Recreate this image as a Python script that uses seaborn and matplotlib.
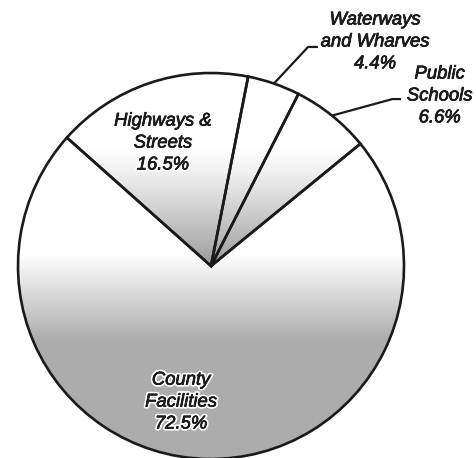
import numpy as np
import matplotlib
matplotlib.use("Agg")
import matplotlib.pyplot as plt
import matplotlib.patheffects as pe
from matplotlib.colors import LinearSegmentedColormap
import seaborn as sns

# Capital spending shares (percent), listed counter-clockwise from the start angle
categories = ["Public\nSchools", "Waterways\nand Wharves", "Highways &\nStreets", "County\nFacilities"]
shares = [6.6, 4.4, 16.5, 72.5]

sns.set_theme(style="white")
plt.rcParams["font.family"] = ["Liberation Sans", "DejaVu Sans"]

fig = plt.figure(figsize=(4.76, 4.58), dpi=100)
ax = fig.add_axes([0, 0, 1, 1])

wedges, _ = ax.pie(
    shares,
    startangle=39.3,
    counterclock=True,
    radius=1.0,
    wedgeprops=dict(facecolor="none", edgecolor="#1a1a1a", linewidth=1.9),
)

# Vertical grey shading inside each wedge, clipped to the wedge outline
n = 400
ys = np.linspace(1.0, -1.0, n)
upper_t = np.clip((0.62 - ys) / 0.62, 0, 1) ** 1.2
lower_t = np.clip((0.06 - ys) / 0.45, 0, 1)
upper_cmap = LinearSegmentedColormap.from_list("upper", ["#ffffff", "#9a9a9a"])
lower_cmap = LinearSegmentedColormap.from_list("lower", ["#ffffff", "#acacac"])

for i, w in enumerate(wedges):
    is_lower = categories[i].startswith("County")
    t = lower_t if is_lower else upper_t
    cmap = lower_cmap if is_lower else upper_cmap
    img = np.tile(t[:, None], (1, 10))
    im = ax.imshow(img, cmap=cmap, vmin=0, vmax=1, extent=[-1, 1, -1, 1],
                   aspect="auto", interpolation="bilinear", zorder=0)
    im.set_clip_path(w)
    w.set_zorder(2)

halo = [pe.withStroke(linewidth=3, foreground="white"),
        pe.Stroke(linewidth=0.5, foreground="#1c1c1c"), pe.Normal()]
text_kw = dict(ha="center", va="center", fontsize=13.3, style="italic",
               color="#1c1c1c", linespacing=1.38, path_effects=halo, zorder=5)

labels = [f"{c}\n{v:.1f}%" for c, v in zip(categories, shares)]
label_pos = [(1.185, 0.881), (0.850, 1.161), (-0.249, 0.637), (-0.155, -0.705)]
for lab, (x, y) in zip(labels, label_pos):
    ax.text(x, y, lab, **text_kw)

# Leader lines for the two narrow wedges, starting at each wedge's mid-angle on the rim
elbows = {0: [(0.940, 0.865), (0.985, 0.865)], 1: [(0.503, 1.135), (0.554, 1.135)]}
for i, pts in elbows.items():
    w = wedges[i]
    mid = np.deg2rad((w.theta1 + w.theta2) / 2)
    xs = [np.cos(mid)] + [p[0] for p in pts]
    ys_l = [np.sin(mid)] + [p[1] for p in pts]
    ax.plot(xs, ys_l, color="#1a1a1a", lw=1.6, solid_capstyle="butt", zorder=4)

ax.set_xlim(-211 / 193, (476 - 211) / 193)
ax.set_ylim(-(458 - 266) / 193, 266 / 193)
ax.set_aspect("equal")
ax.axis("off")

fig.savefig("out.png", dpi=100, facecolor="white")
